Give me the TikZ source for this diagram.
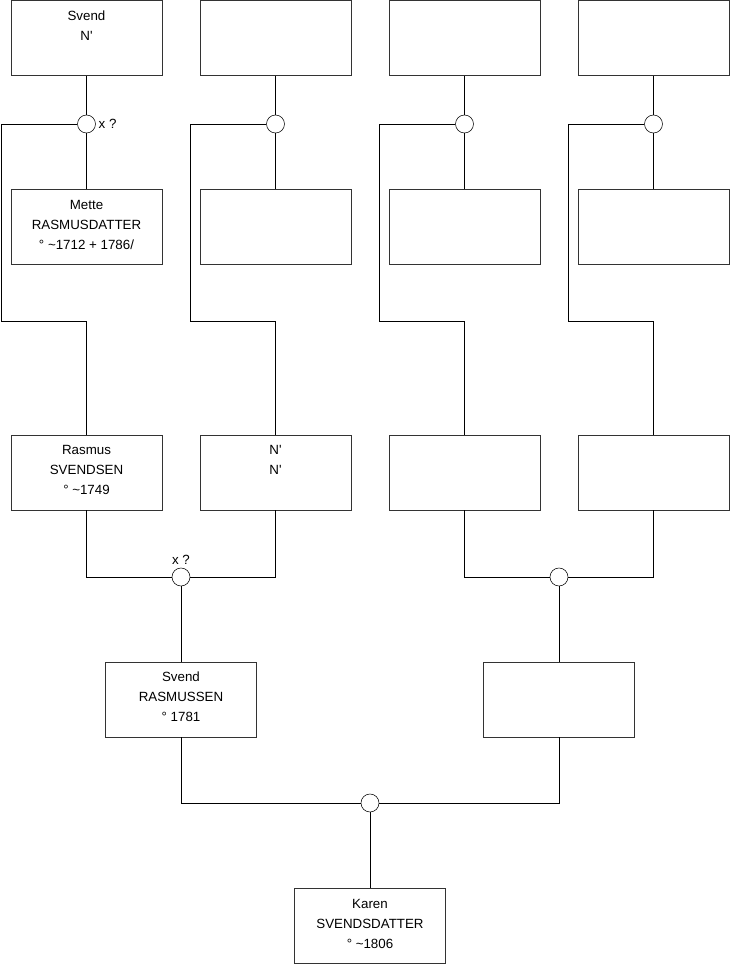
\documentclass[tikz,border=0pt]{standalone}
\usepackage{fontspec}
\setmainfont{Liberation Sans}
\newcommand{\pinfo}[1]{\parbox[t][56pt][t]{112pt}{\centering\baselineskip=15pt\rule{0pt}{14.5pt}#1}}
\newcommand{\napo}{N\textquotesingle}
\begin{document}
\begin{tikzpicture}[
	x=0.75pt, y=-0.75pt,
	person/.style={ draw=black!80, thin, inner sep=0pt, minimum width=113.25pt, minimum height=56.25pt, font=\fontsize{10}{15}\selectfont },
	union/.style={ circle, draw, thin, fill=white, inner sep=0pt, minimum size=13.5pt },
	link/.style={ thin, black },
	unionnote/.style={ font=\fontsize{10}{12}\selectfont, inner sep=2pt }
]
\useasboundingbox (0,0) rectangle (740,975);

% great-grandparents and their unions
\node at (86.5,38) (a1) [person] {\pinfo{Svend\\\napo}};
\node at (275.5,38) (a2) [person] {\pinfo{}};
\node at (464.5,38) (a3) [person] {\pinfo{}};
\node at (653.5,38) (a4) [person] {\pinfo{}};
\node at (86.5,227) (b1) [person] {\pinfo{Mette\\RASMUSDATTER\\° \textasciitilde1712 + 1786/}};
\node at (275.5,227) (b2) [person] {\pinfo{}};
\node at (464.5,227) (b3) [person] {\pinfo{}};
\node at (653.5,227) (b4) [person] {\pinfo{}};
\node at (86.5,124) (u1) [union,label={[unionnote]right:x ?}] {};
\node at (275.5,124) (u2) [union] {};
\node at (464.5,124) (u3) [union] {};
\node at (653.5,124) (u4) [union] {};

% grandparents
\node at (86.5,472.5) (g1) [person] {\pinfo{Rasmus\\SVENDSEN\\° \textasciitilde1749}};
\node at (275.5,472.5) (g2) [person] {\pinfo{\napo\\\napo}};
\node at (464.5,472.5) (g3) [person] {\pinfo{}};
\node at (653.5,472.5) (g4) [person] {\pinfo{}};
\node at (181,577) (v1) [union,label={[unionnote]above:x ?}] {};
\node at (559,577) (v2) [union] {};

% parents
\node at (181,699.5) (p1) [person] {\pinfo{Svend\\RASMUSSEN\\° 1781}};
\node at (559,699.5) (p2) [person] {\pinfo{}};
\node at (370,803) (w1) [union] {};

% child
\node at (370,926) (k1) [person] {\pinfo{Karen\\SVENDSDATTER\\° \textasciitilde1806}};

\foreach \i/\xl in {1/1,2/190,3/379,4/568} {
	\draw[link] (a\i) -- (u\i) -- (b\i);
	\draw[link] (u\i.west) -| (\xl,321) -| (g\i.north);
}
\draw[link] (g1.south) |- (v1.west);
\draw[link] (g2.south) |- (v1.east);
\draw[link] (g3.south) |- (v2.west);
\draw[link] (g4.south) |- (v2.east);
\draw[link] (v1) -- (p1);
\draw[link] (v2) -- (p2);
\draw[link] (p1.south) |- (w1.west);
\draw[link] (p2.south) |- (w1.east);
\draw[link] (w1) -- (k1);

\end{tikzpicture}
\end{document}
